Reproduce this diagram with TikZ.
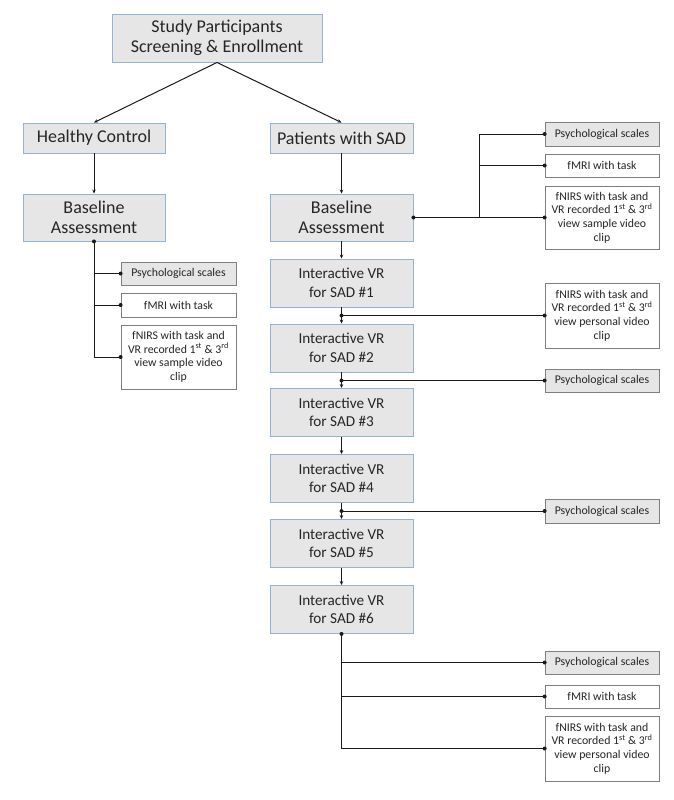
\documentclass[tikz,border=0pt]{standalone}
\usepackage{fontspec}
\setmainfont{Carlito}
\usetikzlibrary{arrows.meta}
\definecolor{boxgray}{HTML}{E6E6E6}
\definecolor{boxblue}{HTML}{95B3D7}
\definecolor{smallborder}{HTML}{7F7F7F}
\definecolor{linecol}{HTML}{1A1A1A}
\definecolor{txt}{HTML}{262626}
\tikzset{
  mainbox/.style={draw=boxblue, fill=boxgray, line width=0.9pt, align=center, inner sep=0pt, text=txt,
    font=\fontsize{18}{20}\selectfont},
  vrbox/.style={draw=boxblue, fill=boxgray, line width=0.9pt, align=center, inner sep=0pt, text=txt,
    minimum width=143pt, minimum height=48pt, font=\fontsize{15.2}{18.5}\selectfont},
  smallgray/.style={draw=smallborder, fill=boxgray, line width=0.8pt, align=center, inner sep=0pt, text=txt,
    minimum width=114pt, font=\fontsize{11.8}{13.6}\selectfont},
  smallwhite/.style={draw=smallborder, fill=white, line width=0.8pt, align=center, inner sep=0pt, text=txt,
    minimum width=114pt, font=\fontsize{11.8}{13.6}\selectfont},
  conn/.style={draw=linecol, line width=1pt},
  arr/.style={conn, -{Stealth[length=4pt,width=3.5pt]}},
}
\newcommand{\dotat}[1]{\fill[linecol] (#1) circle (2pt);}
\begin{document}
\begin{tikzpicture}[x=1pt,y=-1pt]
\useasboundingbox (0,0) rectangle (674,800);
% main boxes
\node[mainbox, minimum width=210pt, minimum height=48pt] (top) at (217,38) {Study Participants\\Screening \& Enrollment};
\node[mainbox, minimum width=142pt, minimum height=30pt] (hc) at (94,138) {Healthy Control};
\node[mainbox, minimum width=143pt, minimum height=30pt] (pat) at (341.5,138) {Patients with SAD};
\node[mainbox, minimum width=142pt, minimum height=47pt] (blL) at (94,217.5) {Baseline\\Assessment};
\node[mainbox, minimum width=143pt, minimum height=47pt] (blR) at (341.5,217.5) {Baseline\\Assessment};
\node[vrbox] (vr1) at (341.5,283) {Interactive VR\\for SAD \#1};
\node[vrbox] (vr2) at (341.5,348) {Interactive VR\\for SAD \#2};
\node[vrbox] (vr3) at (341.5,412.5) {Interactive VR\\for SAD \#3};
\node[vrbox] (vr4) at (341.5,478.5) {Interactive VR\\for SAD \#4};
\node[vrbox] (vr5) at (341.5,543.5) {Interactive VR\\for SAD \#5};
\node[vrbox] (vr6) at (341.5,609.5) {Interactive VR\\for SAD \#6};
% left small boxes
\node[smallgray, minimum width=115pt, minimum height=23pt] (psychL) at (178.5,273.5) {Psychological scales};
\node[smallwhite, minimum width=115pt, minimum height=24pt] (fmriL) at (178.5,305) {fMRI with task};
\node[smallwhite, minimum width=115pt, minimum height=64pt] (fnirsL) at (178.5,357) {fNIRS with task and\\VR recorded 1\textsuperscript{st} \& 3\textsuperscript{rd}\\view sample video\\clip};
% right small boxes
\node[smallgray, minimum height=24pt] (psychA) at (602,134) {Psychological scales};
\node[smallwhite, minimum height=23pt] (fmriA) at (602,165.5) {fMRI with task};
\node[smallwhite, minimum height=63pt] (fnirsA) at (602,217.5) {fNIRS with task and\\VR recorded 1\textsuperscript{st} \& 3\textsuperscript{rd}\\view sample video\\clip};
\node[smallwhite, minimum height=65pt] (fnirsB) at (602,315.5) {fNIRS with task and\\VR recorded 1\textsuperscript{st} \& 3\textsuperscript{rd}\\view personal video\\clip};
\node[smallgray, minimum height=23pt] (psychB) at (602,380.5) {Psychological scales};
\node[smallgray, minimum height=24pt] (psychC) at (602,511) {Psychological scales};
\node[smallgray, minimum height=23pt] (psychD) at (602,662.5) {Psychological scales};
\node[smallwhite, minimum height=23pt] (fmriD) at (602,696.5) {fMRI with task};
\node[smallwhite, minimum height=65pt] (fnirsD) at (602,748.5) {fNIRS with task and\\VR recorded 1\textsuperscript{st} \& 3\textsuperscript{rd}\\view personal video\\clip};
% main flow
\draw[arr] (top.south) -- (hc.north);
\draw[arr] (top.south) -- (pat.north);
\draw[arr] (hc) -- (blL);
\draw[arr] (pat) -- (blR);
\draw[arr] (blR) -- (vr1);
\draw[arr] (vr1) -- (vr2);
\draw[arr] (vr2) -- (vr3);
\draw[arr] (vr3) -- (vr4);
\draw[arr] (vr4) -- (vr5);
\draw[arr] (vr5) -- (vr6);
% left baseline branches
\coordinate (tL) at (blL.south |- fnirsL.west);
\draw[conn] (blL.south) -- (tL) -- (fnirsL.west);
\draw[conn] (blL.south |- psychL.west) -- (psychL.west);
\draw[conn] (blL.south |- fmriL.west) -- (fmriL.west);
\dotat{blL.south}\dotat{psychL.west}\dotat{fmriL.west}\dotat{fnirsL.west}
% right baseline branches
\coordinate (tA) at (479,217.5);
\draw[conn] (blR.east) -- (fnirsA.west);
\draw[conn] (tA) -- (tA |- psychA.west) -- (psychA.west);
\draw[conn] (tA |- fmriA.west) -- (fmriA.west);
\dotat{blR.east}\dotat{psychA.west}\dotat{fmriA.west}\dotat{fnirsA.west}
% VR1-VR2 branch
\coordinate (b1) at (vr1.south |- fnirsB.west);
\draw[conn] (b1) -- (fnirsB.west);
\dotat{b1}\dotat{fnirsB.west}
% VR2-VR3 branch
\coordinate (b2) at (vr2.south |- psychB.west);
\draw[conn] (b2) -- (psychB.west);
\dotat{b2}\dotat{psychB.west}
% VR4-VR5 branch
\coordinate (b4) at (vr4.south |- psychC.west);
\draw[conn] (b4) -- (psychC.west);
\dotat{b4}\dotat{psychC.west}
% VR6 branches
\coordinate (t6) at (vr6.south |- fnirsD.west);
\draw[conn] (vr6.south) -- (t6) -- (fnirsD.west);
\draw[conn] (vr6.south |- psychD.west) -- (psychD.west);
\draw[conn] (vr6.south |- fmriD.west) -- (fmriD.west);
\dotat{vr6.south}\dotat{psychD.west}\dotat{fmriD.west}\dotat{fnirsD.west}
\end{tikzpicture}
\end{document}
